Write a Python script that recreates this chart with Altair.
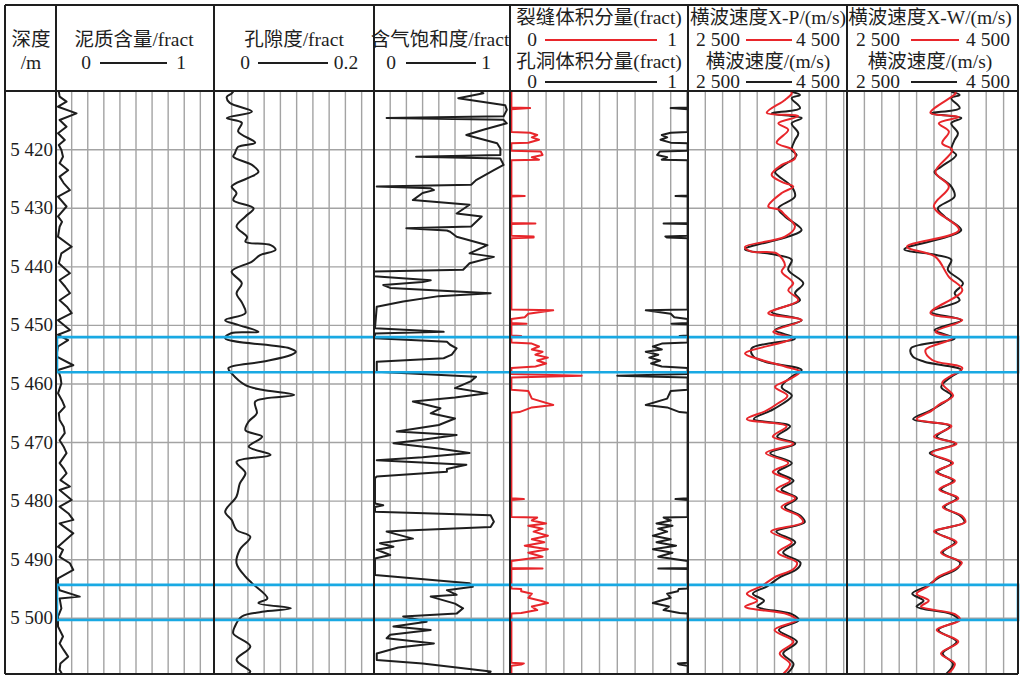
import altair as alt
import pandas as pd

# ------------------------------------------------------------------ data
DEPTH_TICKS = [5420, 5430, 5440, 5450, 5460, 5470, 5480, 5490, 5500]
DEPTH_LABELS = ["5 420", "5 430", "5 440", "5 450", "5 460", "5 470", "5 480", "5 490", "5 500"]

# 泥质含量 (fract)
SH_D = [5410.1, 5410.95, 5411.8, 5412.66, 5413.8, 5414.93, 5416.07, 5417.2, 5418.34, 5419.2, 5420.05,
        5421.2, 5422.3, 5423.5, 5424.6, 5425.7, 5426.9, 5428.0, 5429.7, 5431.4, 5432.3, 5433.15, 5434.85,
        5436.56, 5437.7, 5439.4, 5441.1, 5442.25, 5443.4, 5444.5, 5445.7, 5446.8, 5447.9, 5449.1, 5450.8,
        5451.6, 5452.5, 5453.6, 5455.3, 5456.8, 5457.6, 5458.8, 5459.9, 5461.6, 5462.8, 5463.9, 5465.0,
        5466.15, 5467.3, 5468.4, 5469.6, 5470.7, 5471.8, 5473.5, 5474.4, 5475.25, 5476.4, 5477.5, 5478.1,
        5479.8, 5480.95, 5482.1, 5483.2, 5483.8, 5485.5, 5487.8, 5488.3, 5489.5, 5490.6, 5491.75, 5493.2,
        5494.3, 5495.2, 5496.3, 5496.6, 5498.3, 5499.7, 5501.4, 5503.1, 5504.3, 5505.4, 5506.55, 5507.7,
        5508.8, 5509.5]
SH_V = [0.02, 0.025, 0.068, 0.015, 0.13, 0.025, 0.068, 0.015, 0.057, 0.02, 0.036,
        0.046, 0.025, 0.078, 0.025, 0.05, 0.089, 0.015, 0.068, 0.015, 0.04, 0.025, 0.015,
        0.10, 0.036, 0.02, 0.089, 0.025, 0.06, 0.089, 0.025, 0.07, 0.10, 0.015, 0.089,
        0.015, 0.078, 0.015, 0.004, 0.11, 0.015, 0.03, 0.036, 0.015, 0.04, 0.057, 0.02,
        0.025, 0.05, 0.057, 0.025, 0.05, 0.068, 0.025, 0.05, 0.068, 0.03, 0.089, 0.025,
        0.10, 0.025, 0.08, 0.11, 0.025, 0.11, 0.015, 0.046, 0.025, 0.089, 0.11, 0.015,
        0.015, 0.025, 0.15, 0.025, 0.036, 0.015, 0.015, 0.046, 0.025, 0.05, 0.078, 0.03,
        0.025, 0.04]

# 孔隙度 (fract)
POR_D = [5410.1, 5410.4, 5411.0, 5412.0, 5413.5, 5414.6, 5415.4, 5416.9, 5418.8, 5419.5, 5420.6, 5421.2,
         5422.6, 5423.8, 5424.9, 5426.3, 5427.4, 5428.6, 5430.0, 5431.4, 5433.1, 5434.9, 5435.7, 5436.3,
         5437.1, 5438.0, 5439.1, 5440.8, 5442.8, 5444.5, 5446.2, 5447.9, 5449.1, 5449.9, 5451.1, 5451.3,
         5452.2, 5453.9, 5454.5, 5455.05, 5456.2, 5457.3, 5458.2, 5460.2, 5461.0, 5461.9, 5463.0, 5465.0,
         5466.4, 5467.9, 5469.0, 5470.7, 5472.1, 5473.3, 5475.2, 5477.0, 5479.2, 5481.8, 5483.2, 5484.9,
         5486.1, 5488.3, 5490.6, 5492.9, 5494.0, 5496.6, 5497.4, 5498.3, 5498.9, 5499.7, 5501.4, 5502.6,
         5504.8, 5507.1, 5509.1, 5509.5]
POR_V = [0.022, 0.020, 0.014, 0.0175, 0.045, 0.014, 0.0325, 0.028, 0.049, 0.028, 0.024, 0.022,
         0.045, 0.053, 0.039, 0.020, 0.026, 0.022, 0.047, 0.037, 0.026, 0.039, 0.037, 0.068,
         0.074, 0.055, 0.045, 0.020, 0.0325, 0.026, 0.033, 0.037, 0.012, 0.028, 0.053, 0.020,
         0.012, 0.091, 0.099, 0.093, 0.0575, 0.016, 0.020, 0.037, 0.0575, 0.097, 0.049, 0.051,
         0.041, 0.037, 0.0575, 0.041, 0.068, 0.026, 0.037, 0.030, 0.026, 0.012, 0.020, 0.026,
         0.043, 0.030, 0.026, 0.037, 0.045, 0.064, 0.053, 0.093, 0.0575, 0.0325, 0.024, 0.022,
         0.043, 0.026, 0.043, 0.040]

# 含气饱和度 (fract)
SG_D = [5410.1, 5410.37, 5411.2, 5412.4, 5413.2, 5414.3, 5414.6, 5414.9, 5415.5, 5416.6, 5417.5, 5418.9,
        5419.8, 5420.9, 5421.2, 5421.5, 5422.6, 5423.5, 5425.2, 5426.0, 5426.3, 5426.6, 5426.9, 5427.4,
        5428.6, 5429.4, 5430.9, 5431.4, 5433.1, 5433.4, 5433.8, 5434.0, 5434.85, 5436.3, 5437.7, 5438.3,
        5439.4, 5440.5, 5440.8, 5441.6, 5442.3, 5442.6, 5443.1, 5443.6, 5444.5, 5445.0, 5445.9, 5446.8,
        5450.5, 5451.1, 5451.4, 5452.2, 5452.8, 5453.3, 5453.9, 5455.0, 5455.6, 5456.2, 5457.9, 5458.75,
        5459.5, 5460.7, 5461.6, 5462.3, 5463.0, 5464.15, 5465.0, 5465.9, 5467.0, 5468.1, 5468.7, 5469.5,
        5470.1, 5471.0, 5471.8, 5472.5, 5473.0, 5473.8, 5474.5, 5475.0, 5475.8, 5476.1, 5480.4, 5480.7,
        5481.0, 5481.8, 5482.4, 5483.5, 5484.4, 5485.0, 5485.2, 5486.4, 5487.2, 5487.8, 5488.3, 5489.2,
        5489.8, 5492.6, 5494.0, 5494.6, 5495.2, 5496.0, 5496.3, 5497.5, 5498.3, 5499.2, 5499.7, 5500.6,
        5501.4, 5502.0, 5502.8, 5503.4, 5504.3, 5505.0, 5506.0, 5507.1, 5507.7, 5509.1, 5509.5]
SG_V = [0.66, 0.675, 0.52, 0.81, 0.82, 0.80, 0.078, 0.80, 0.82, 0.675, 0.57, 0.76,
        0.78, 0.78, 0.26, 0.78, 0.80, 0.74, 0.63, 0.60, 0.017, 0.35, 0.37, 0.30,
        0.24, 0.59, 0.51, 0.665, 0.60, 0.20, 0.45, 0.47, 0.51, 0.70, 0.59, 0.74,
        0.59, 0.55, 0.0, 0.0, 0.35, 0.30, 0.057, 0.10, 0.72, 0.40, 0.18, 0.017,
        0.006, 0.43, 0.006, 0.006, 0.45, 0.47, 0.51, 0.48, 0.43, 0.017, 0.017, 0.63,
        0.60, 0.50, 0.70, 0.50, 0.24, 0.41, 0.35, 0.50, 0.40, 0.14, 0.51, 0.30,
        0.12, 0.40, 0.59, 0.30, 0.017, 0.57, 0.45, 0.45, 0.017, 0.006, 0.006, 0.057,
        0.006, 0.006, 0.72, 0.74, 0.72, 0.20, 0.078, 0.24, 0.037, 0.12, 0.017, 0.10,
        0.006, 0.006, 0.59, 0.61, 0.45, 0.51, 0.35, 0.50, 0.55, 0.51, 0.18, 0.325,
        0.12, 0.35, 0.10, 0.078, 0.37, 0.15, 0.017, 0.017, 0.30, 0.72, 0.70]

# 裂缝体积分量 (fract, red)
FR_D = [5410.1, 5412.8, 5412.9, 5413.1, 5417.0, 5417.1, 5417.5, 5417.9, 5418.3, 5418.8, 5418.9, 5420.2,
        5420.3, 5420.9, 5421.3, 5421.7, 5421.8, 5427.8, 5427.9, 5428.0, 5432.5, 5432.6, 5432.7, 5434.7,
        5434.8, 5435.0, 5435.1, 5447.3, 5447.4, 5448.0, 5448.6, 5448.9, 5449.6, 5449.7, 5449.8, 5451.7,
        5451.8, 5451.9, 5452.9, 5453.1, 5453.6, 5454.1, 5454.5, 5455.0, 5455.5, 5456.0, 5456.5, 5457.0,
        5457.25, 5458.3, 5458.6, 5458.9, 5461.0, 5461.2, 5462.5, 5463.6, 5464.0, 5464.8, 5464.9, 5479.5,
        5479.65, 5479.8, 5482.7, 5482.8, 5483.3, 5483.8, 5484.2, 5484.7, 5485.2, 5485.9, 5486.5, 5487.0,
        5487.6, 5488.2, 5488.8, 5489.5, 5490.2, 5491.4, 5491.5, 5491.6, 5494.9, 5495.0, 5495.4, 5495.8,
        5496.5, 5497.0, 5497.4, 5498.0, 5498.6, 5499.1, 5499.2, 5507.6, 5507.7, 5507.9, 5508.1, 5509.5]
FR_V = [0.005, 0.005, 0.11, 0.005, 0.005, 0.11, 0.15, 0.12, 0.16, 0.10, 0.005, 0.005,
        0.17, 0.18, 0.12, 0.16, 0.005, 0.005, 0.08, 0.005, 0.005, 0.14, 0.005, 0.005,
        0.13, 0.13, 0.005, 0.005, 0.24, 0.10, 0.08, 0.005, 0.005, 0.09, 0.005, 0.005,
        0.06, 0.005, 0.005, 0.12, 0.16, 0.12, 0.18, 0.14, 0.21, 0.15, 0.20, 0.14,
        0.005, 0.005, 0.40, 0.005, 0.005, 0.10, 0.12, 0.24, 0.12, 0.05, 0.005, 0.005,
        0.075, 0.005, 0.005, 0.15, 0.12, 0.20, 0.10, 0.18, 0.13, 0.21, 0.12, 0.19,
        0.08, 0.21, 0.10, 0.18, 0.005, 0.005, 0.18, 0.005, 0.005, 0.06, 0.06, 0.12,
        0.10, 0.17, 0.21, 0.12, 0.15, 0.06, 0.005, 0.005, 0.075, 0.06, 0.005, 0.005]

# 孔洞体积分量 (fract, black, plotted from the right edge)
VG_D = FR_D
VG_V = [0.005, 0.005, 0.10, 0.005, 0.005, 0.10, 0.15, 0.12, 0.157, 0.10, 0.005, 0.005,
        0.16, 0.176, 0.12, 0.15, 0.005, 0.005, 0.073, 0.005, 0.005, 0.14, 0.005, 0.005,
        0.13, 0.12, 0.005, 0.005, 0.24, 0.10, 0.08, 0.005, 0.005, 0.095, 0.005, 0.005,
        0.05, 0.005, 0.005, 0.15, 0.20, 0.15, 0.24, 0.17, 0.22, 0.16, 0.21, 0.15,
        0.005, 0.005, 0.40, 0.005, 0.005, 0.10, 0.12, 0.24, 0.12, 0.05, 0.005, 0.005,
        0.073, 0.005, 0.005, 0.14, 0.10, 0.18, 0.09, 0.17, 0.12, 0.20, 0.10, 0.18,
        0.07, 0.20, 0.09, 0.17, 0.005, 0.005, 0.17, 0.005, 0.005, 0.055, 0.06, 0.12,
        0.10, 0.16, 0.20, 0.11, 0.14, 0.05, 0.005, 0.005, 0.06, 0.05, 0.005, 0.005]

# 横波速度 (m/s, black) – shown in both velocity tracks
VS_D = [5410.1, 5410.66, 5411.2, 5412.9, 5413.8, 5414.6, 5415.5, 5417.2, 5418.34, 5420.05, 5420.9, 5422.9,
        5423.8, 5426.3, 5428.0, 5430.0, 5431.4, 5433.7, 5434.85, 5437.0, 5437.98, 5438.8, 5440.5, 5442.8,
        5444.5, 5445.7, 5447.7, 5449.1, 5450.8, 5452.2, 5453.9, 5455.3, 5456.2, 5457.6, 5458.75, 5460.5,
        5462.0, 5463.5, 5464.6, 5466.0, 5467.2, 5469.0, 5470.2, 5471.8, 5473.5, 5475.0, 5476.5, 5478.0,
        5479.5, 5481.0, 5482.5, 5483.6, 5485.2, 5487.0, 5488.8, 5490.5, 5491.6, 5493.0, 5494.5, 5495.8,
        5497.0, 5498.0, 5499.3, 5500.3, 5502.0, 5504.0, 5506.0, 5507.8, 5509.5]
VS_V = [3700, 3795, 3699, 3795, 3467, 3814, 3699, 3775, 3737, 3699, 3756, 3583,
        3506, 3699, 3737, 3544, 3621, 3814, 3659, 3159, 3525, 3699, 3659, 3833,
        3737, 3795, 3467, 3814, 3506, 3737, 3236, 3255, 3390, 3814, 3699, 3583,
        3700, 3580, 3450, 3260, 3680, 3530, 3740, 3450, 3700, 3540, 3720, 3580,
        3760, 3620, 3800, 3850, 3520, 3740, 3600, 3800, 3760, 3560, 3420, 3250,
        3380, 3300, 3700, 3780, 3550, 3760, 3600, 3720, 3640]

# 横波速度 X-P (m/s, red)
VP_D = [5410.1, 5410.4, 5411.5, 5413.7, 5414.25, 5415.5, 5416.6, 5418.8, 5420.05, 5421.5, 5422.6, 5424.3,
        5425.5, 5426.3, 5427.4, 5429.7, 5430.3, 5431.15, 5433.1, 5434.85, 5436.6, 5437.4, 5437.7, 5439.7,
        5440.8, 5442.8, 5444.0, 5445.7, 5447.9, 5449.1, 5451.1, 5452.2, 5454.8, 5455.9, 5457.0, 5457.9,
        5459.3, 5460.5, 5462.0, 5463.5, 5464.6, 5466.0, 5467.2, 5469.0, 5470.2, 5471.8, 5473.5, 5475.0,
        5476.5, 5478.0, 5479.5, 5481.0, 5482.5, 5483.6, 5485.2, 5487.0, 5488.8, 5490.5, 5491.6, 5493.0,
        5494.5, 5495.8, 5497.0, 5498.0, 5499.3, 5500.3, 5502.0, 5504.0, 5506.0, 5507.8, 5509.5]
VP_V = [3690, 3699, 3621, 3410, 3775, 3544, 3659, 3525, 3717, 3737, 3583, 3467,
        3583, 3717, 3583, 3428, 3563, 3621, 3737, 3621, 3159, 3236, 3525, 3621,
        3583, 3717, 3659, 3775, 3428, 3814, 3486, 3699, 3159, 3352, 3621, 3795,
        3659, 3506, 3650, 3520, 3400, 3180, 3640, 3480, 3720, 3400, 3660, 3480,
        3680, 3520, 3740, 3580, 3780, 3830, 3460, 3700, 3540, 3760, 3720, 3500,
        3350, 3180, 3300, 3160, 3650, 3760, 3500, 3720, 3560, 3680, 3600]

# 横波速度 X-W (m/s, red)
VW_D = [5410.1, 5410.37, 5413.7, 5414.4, 5415.5, 5416.9, 5418.9, 5420.05, 5423.8, 5426.3, 5429.7, 5433.7,
        5436.56, 5438.3, 5441.7, 5444.0, 5447.9, 5449.1, 5451.1, 5452.2, 5454.2, 5455.9, 5457.3, 5459.8,
        5462.0, 5463.5, 5464.6, 5466.0, 5467.2, 5469.0, 5470.2, 5471.8, 5473.5, 5475.0, 5476.5, 5478.0,
        5479.5, 5481.0, 5482.5, 5483.6, 5485.2, 5487.0, 5488.8, 5490.5, 5491.6, 5493.0, 5494.5, 5495.8,
        5497.0, 5498.0, 5499.3, 5500.3, 5502.0, 5504.0, 5506.0, 5507.8, 5509.5]
VW_V = [3740, 3749, 3459, 3787, 3555, 3671, 3594, 3710, 3517, 3671, 3498, 3787,
        3190, 3517, 3671, 3826, 3459, 3826, 3517, 3710, 3402, 3479, 3826, 3594,
        3720, 3560, 3470, 3300, 3700, 3500, 3760, 3470, 3720, 3520, 3740, 3560,
        3780, 3600, 3820, 3860, 3500, 3760, 3580, 3820, 3740, 3540, 3440, 3300,
        3440, 3350, 3740, 3800, 3530, 3780, 3580, 3740, 3660]

# 解释层段 (depth intervals, m)
ZONE_TOP = [5452.0, 5494.3]
ZONE_BOT = [5458.0, 5500.3]

# ------------------------------------------------------------------ layout / style
W, H = 1021, 677
TOP, HDR, BOT = 5, 91, 674
LEFT, RIGHT = 5, 1018
BORDERS = [LEFT, 56, 214, 374, 510, 688, 847, RIGHT]
SERIF = "Liberation Serif, Noto Sans CJK SC"
INK = "#1e1e1e"
RED = "#e8262b"
GRID = "#a3a3a3"
BLUE = "#19a9e3"
FS = 19.5

YS = alt.Scale(domain=[5409.98, 5509.51], range=[HDR, BOT], zero=False, nice=False)
PX = alt.Scale(domain=[0, W], range=[0, W], zero=False, nice=False)
PY = alt.Scale(domain=[0, H], range=[0, H], zero=False, nice=False)

# track scales: (domain, pixel range, grid values)
TRACKS = {
    "sh": ([0, 1], [55.6, 216.4], [i / 10 for i in range(1, 10)]),
    "por": ([0, 0.2], [215.4, 377.9], [i / 50 for i in range(1, 10)]),
    "sg": ([0, 1], [374, 536], [i / 10 for i in range(1, 9)]),
    "fr": ([0, 1], [510.5, 688.5], [i / 10 for i in range(1, 10)]),
    "vg": ([0, 1], [688.5, 510.5], []),
    "vp": ([2500, 4500], [688, 861], [2500 + 200 * i for i in range(1, 10)]),
    "vw": ([2500, 4500], [847, 1021], [2500 + 200 * i for i in range(1, 10)]),
}


def tscale(key):
    dom, rng, _ = TRACKS[key]
    return alt.Scale(domain=dom, range=rng, zero=False, nice=False)


layers = []

# white background
layers.append(alt.Chart(pd.DataFrame({"a": [0]})).mark_rect(fill="white", stroke=None).encode(
    x=alt.value(0), x2=alt.value(W), y=alt.value(0), y2=alt.value(H)))

# vertical grid lines in each track
for key in ["sh", "por", "sg", "fr", "vp", "vw"]:
    g = TRACKS[key][2]
    layers.append(alt.Chart(pd.DataFrame({"g": g})).mark_rule(color=GRID, strokeWidth=1.4).encode(
        x=alt.X("g:Q", scale=tscale(key), axis=None),
        y=alt.value(HDR), y2=alt.value(BOT)))

# horizontal depth grid lines
layers.append(alt.Chart(pd.DataFrame({"d": DEPTH_TICKS})).mark_rule(color=GRID, strokeWidth=1.4).encode(
    y=alt.Y("d:Q", scale=YS, axis=None), x=alt.value(56), x2=alt.value(RIGHT)))


def curve(d, v, key, color, width=2.0, interp="linear"):
    df = pd.DataFrame({"d": d, "v": v})
    return alt.Chart(df).mark_line(color=color, strokeWidth=width, strokeJoin="round",
                                   interpolate=interp).encode(
        x=alt.X("v:Q", scale=tscale(key), axis=None),
        y=alt.Y("d:Q", scale=YS, axis=None),
        order=alt.Order("d:Q"))


SMOOTH = "catmull-rom"
layers += [
    curve(SH_D, SH_V, "sh", INK),
    curve(POR_D, POR_V, "por", INK, interp=SMOOTH),
    curve(SG_D, SG_V, "sg", INK),
    curve(VG_D, VG_V, "vg", INK),
    curve(FR_D, FR_V, "fr", RED),
    curve(VS_D, VS_V, "vp", INK, interp=SMOOTH),
    curve(VP_D, VP_V, "vp", RED, interp=SMOOTH),
    curve(VS_D, VS_V, "vw", INK, interp=SMOOTH),
    curve(VW_D, VW_V, "vw", RED, interp=SMOOTH),
]

# interpreted intervals (blue boxes)
layers.append(alt.Chart(pd.DataFrame({"t": ZONE_TOP, "b": ZONE_BOT})).mark_rect(
    fillOpacity=0, stroke=BLUE, strokeWidth=2.6).encode(
    y=alt.Y("t:Q", scale=YS, axis=None), y2="b:Q",
    x=alt.value(57), x2=alt.value(RIGHT)))

# track borders and frame
layers.append(alt.Chart(pd.DataFrame({"bx": BORDERS})).mark_rule(color=INK, strokeWidth=2).encode(
    x=alt.X("bx:Q", scale=PX, axis=None), y=alt.value(TOP), y2=alt.value(BOT)))
layers.append(alt.Chart(pd.DataFrame({"by": [TOP, HDR, BOT]})).mark_rule(color=INK, strokeWidth=2).encode(
    y=alt.Y("by:Q", scale=PY, axis=None), x=alt.value(LEFT), x2=alt.value(RIGHT)))

# depth labels
layers.append(alt.Chart(pd.DataFrame({"d": DEPTH_TICKS, "lab": DEPTH_LABELS})).mark_text(
    align="right", baseline="middle", font=SERIF, fontSize=19, color=INK).encode(
    y=alt.Y("d:Q", scale=YS, axis=None), x=alt.value(53), text="lab:N"))

# header texts
HEAD_TEXT = ["深度", "/m",
             "泥质含量/fract", "0", "1",
             "孔隙度/fract", "0", "0.2",
             "含气饱和度/fract", "0", "1",
             "裂缝体积分量(fract)", "0", "1", "孔洞体积分量(fract)", "0", "1",
             "横波速度X-P/(m/s)", "2 500", "4 500", "横波速度/(m/s)", "2 500", "4 500",
             "横波速度X-W/(m/s)", "2 500", "4 500", "横波速度/(m/s)", "2 500", "4 500"]
HEAD_X = [31, 31,
          134, 86, 181,
          294, 245, 346,
          440, 391, 486,
          599, 532, 672, 599, 532, 672,
          768, 718, 818, 768, 718, 818,
          930, 878, 988, 930, 878, 988]
HEAD_Y = [40, 63,
          40, 63, 63,
          40, 63, 63,
          40, 63, 63,
          18, 40, 40, 62, 82, 82,
          18, 40, 40, 62, 82, 82,
          18, 40, 40, 62, 82, 82]
layers.append(alt.Chart(pd.DataFrame({"x": HEAD_X, "y": HEAD_Y, "t": HEAD_TEXT})).mark_text(
    align="center", baseline="middle", font=SERIF, fontSize=FS, color=INK).encode(
    x=alt.X("x:Q", scale=PX, axis=None), y=alt.Y("y:Q", scale=PY, axis=None), text="t:N"))

# header legend line samples
LEG_X1 = [100, 258, 406, 545, 545, 746, 746, 911, 911]
LEG_X2 = [167, 328, 476, 657, 657, 792, 792, 959, 957]
LEG_Y = [63, 63, 63, 40, 82, 40, 82, 40, 82]
LEG_C = [INK, INK, INK, RED, INK, RED, INK, RED, INK]
layers.append(alt.Chart(pd.DataFrame({"x1": LEG_X1, "x2": LEG_X2, "y": LEG_Y, "c": LEG_C})).mark_rule(
    strokeWidth=2.2).encode(
    x=alt.X("x1:Q", scale=PX, axis=None), x2="x2:Q",
    y=alt.Y("y:Q", scale=PY, axis=None),
    color=alt.Color("c:N", scale=None)))

chart = alt.layer(*layers).resolve_scale(x="independent", y="independent").properties(
    width=W, height=H, padding=0, autosize=alt.AutoSizeParams(type="none")
).configure_view(stroke=None)

chart.save("out.html", embed_options={"renderer": "svg", "actions": False})
